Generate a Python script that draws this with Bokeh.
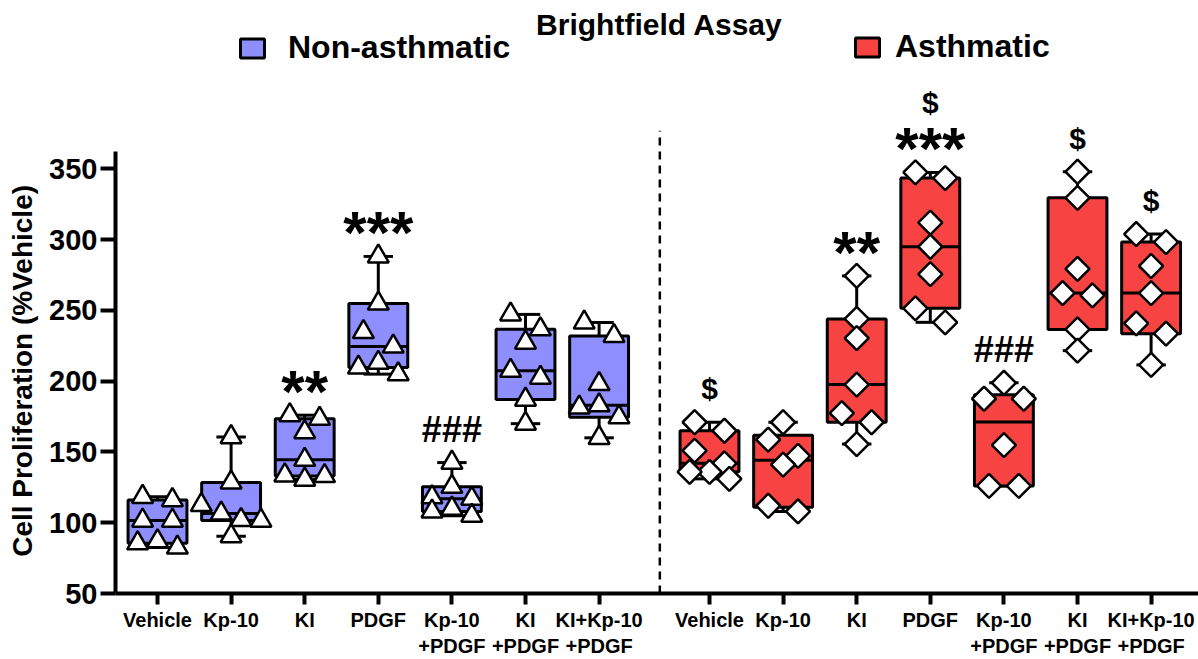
import numpy as np
from bokeh.plotting import figure
from bokeh.models import (Range1d, FixedTicker, ColumnDataSource, Legend, LegendItem,
                          Label, CustomJSTickFormatter)
from bokeh.core.properties import value
from bokeh.embed import file_html
from bokeh.resources import INLINE

FONT = "Liberation Sans"

# ---------------- data ----------------
categories = ["Vehicle", "Kp-10", "KI", "PDGF", "Kp-10\n+PDGF", "KI\n+PDGF", "KI+Kp-10\n+PDGF"]
group_names = ["Non-asthmatic", "Asthmatic"]

non_asthmatic_vehicle = [118.3, 116.0, 101.5, 101.5, 87.0, 85.5, 82.5]
non_asthmatic_kp10 = [160.5, 128.5, 112.5, 106.5, 102.0, 101.5, 90.5]
non_asthmatic_ki = [176.0, 173.5, 164.0, 144.5, 133.5, 133.0, 130.5]
non_asthmatic_pdgf = [288.2, 254.9, 234.8, 224.5, 213.0, 209.7, 205.0]
non_asthmatic_kp10_pdgf = [142.5, 125.4, 118.0, 117.0, 110.0, 108.0, 105.0]
non_asthmatic_ki_pdgf = [247.2, 236.7, 227.3, 207.4, 202.5, 187.0, 170.0]
non_asthmatic_ki_kp10_pdgf = [241.5, 232.0, 198.0, 183.0, 181.5, 174.5, 160.0]

asthmatic_vehicle = [171.0, 165.0, 151.0, 142.0, 136.0, 136.0, 131.0]
asthmatic_kp10 = [171.0, 158.7, 147.3, 141.0, 112.0, 108.0]
asthmatic_ki = [274.4, 244.0, 230.4, 197.6, 177.5, 171.0, 155.6]
asthmatic_pdgf = [347.5, 343.5, 312.0, 295.0, 275.6, 251.5, 241.6]
asthmatic_kp10_pdgf = [198.9, 187.6, 187.6, 154.9, 126.0, 126.0]
asthmatic_ki_pdgf = [348.0, 329.6, 279.4, 262.3, 260.6, 236.6, 221.6]
asthmatic_ki_kp10_pdgf = [304.0, 298.3, 281.4, 262.3, 240.9, 233.6, 211.5]

non_asthmatic = [non_asthmatic_vehicle, non_asthmatic_kp10, non_asthmatic_ki, non_asthmatic_pdgf,
                 non_asthmatic_kp10_pdgf, non_asthmatic_ki_pdgf, non_asthmatic_ki_kp10_pdgf]
asthmatic = [asthmatic_vehicle, asthmatic_kp10, asthmatic_ki, asthmatic_pdgf,
             asthmatic_kp10_pdgf, asthmatic_ki_pdgf, asthmatic_ki_kp10_pdgf]

# significance marks, bottom to top
non_asthmatic_marks = [[], [], ["**"], ["***"], ["###"], [], []]
asthmatic_marks = [["$"], [], ["**"], ["***", "$"], ["###"], ["$"], ["$"]]

y_ticks = [50, 100, 150, 200, 250, 300, 350]
y_label = "Cell Proliferation (%Vehicle)"
title_text = "Brightfield Assay"

# ---------------- styling ----------------
COLORS = {"Non-asthmatic": "#8E8EFF", "Asthmatic": "#F84343"}
GROUP_GAP = 1.5
BOX_W = 0.8
CAP_W = 0.4
Y_AXIS_TOP = 362
LABEL_PAD = "\u00a0" * 19   # shifts the rotated axis title down to centre it on the drawn axis

positions_na = [1 + i for i in range(len(categories))]
positions_as = [positions_na[-1] + GROUP_GAP + i for i in range(len(categories))]
all_pos = positions_na + positions_as
all_labels = categories + categories


def quartile(vals, q):
    s = sorted(vals)
    n = len(s)
    h = (n + 1) * q
    lo = int(np.floor(h))
    frac = h - lo
    if lo < 1:
        return s[0]
    if lo >= n:
        return s[-1]
    return s[lo - 1] + frac * (s[lo] - s[lo - 1])


def swarm(vals, row_gap=12.0, step=0.27):
    order = sorted(range(len(vals)), key=lambda i: -vals[i])
    rows = []
    for i in order:
        if rows and vals[rows[-1][0]] - vals[i] < row_gap:
            rows[-1].append(i)
        else:
            rows.append([i])
    offs = [0.0] * len(vals)
    for r in rows:
        n = len(r)
        if n == 1:
            pat = [0.0]
        elif n == 2:
            pat = [-0.75 * step, 0.75 * step]
        elif n == 3:
            pat = [0.0, -step, step]
        else:
            pat = [(k - (n - 1) / 2) * step for k in range(n)]
        for k, i in enumerate(r):
            offs[i] = pat[k]
    return offs


p = figure(width=1198, height=659,
           x_range=Range1d(0.4293, 15.144), y_range=Range1d(50, 469.0),
           output_backend="svg", toolbar_location=None,
           min_border_left=115, min_border_right=0, min_border_top=0, min_border_bottom=63)
p.xgrid.visible = False
p.ygrid.visible = False
p.outline_line_color = None


def draw_group(data, xs, color, marker, size, angle):
    q1 = [quartile(v, 0.25) for v in data]
    q2 = [quartile(v, 0.5) for v in data]
    q3 = [quartile(v, 0.75) for v in data]
    lo = [min(v) for v in data]
    hi = [max(v) for v in data]
    src = ColumnDataSource(dict(
        x=xs, q1=q1, q2=q2, q3=q3, lo=lo, hi=hi,
        left=[x - BOX_W / 2 for x in xs], right=[x + BOX_W / 2 for x in xs],
        capl=[x - CAP_W / 2 for x in xs], capr=[x + CAP_W / 2 for x in xs]))
    kw = dict(source=src, line_color="black", line_width=3)
    p.segment(x0="x", y0="q3", x1="x", y1="hi", **kw)
    p.segment(x0="x", y0="q1", x1="x", y1="lo", **kw)
    p.segment(x0="capl", y0="hi", x1="capr", y1="hi", **kw)
    p.segment(x0="capl", y0="lo", x1="capr", y1="lo", **kw)
    box = p.vbar(x="x", width=BOX_W, top="q3", bottom="q1", source=src,
                 fill_color=color, line_color="black", line_width=3)
    p.segment(x0="left", y0="q2", x1="right", y1="q2", **kw)
    px, py = [], []
    for x, vals in zip(xs, data):
        for off, v in zip(swarm(vals), vals):
            px.append(x + off)
            py.append(v)
    p.scatter(x=px, y=py, marker=marker, size=size, angle=angle,
              fill_color="white", line_color="black", line_width=2.5)
    return box


box_na = draw_group(non_asthmatic, positions_na, COLORS["Non-asthmatic"], "triangle", 21, 0.0)
box_as = draw_group(asthmatic, positions_as, COLORS["Asthmatic"], "square", 17, np.pi / 4)

# divider between the two groups
div_x = positions_na[-1] + 0.55 * GROUP_GAP
p.segment(x0=[div_x], y0=[y_ticks[0]], x1=[div_x], y1=[377], line_color="black",
          line_width=2.5, line_dash="8 6")

# significance marks
mark_style = {"*": ("60px", 9), "$": ("30px", -1), "#": ("36px", -1)}
groups_marks = {k: dict(x=[], y=[], text=[]) for k in mark_style}
for marks, data, xs in ((non_asthmatic_marks, non_asthmatic, positions_na),
                        (asthmatic_marks, asthmatic, positions_as)):
    for lst, vals, x in zip(marks, data, xs):
        top = max(vals)
        for level, s in enumerate(lst):
            d = groups_marks[s[0]]
            d["x"].append(x)
            d["y"].append(top + 23 + 26 * level)
            d["text"].append(s)
for k, (fs, yoff) in mark_style.items():
    d = groups_marks[k]
    p.text(x=d["x"], y=d["y"], text=d["text"], text_font=value(FONT), text_font_style="bold",
           text_font_size=fs, text_align="center", text_baseline="alphabetic",
           y_offset=yoff, text_color="black")

# title
p.add_layout(Label(x=(positions_na[0] + positions_as[-1]) / 2 + 0.07, y=451.8, text=title_text,
                   text_font=FONT, text_font_style="bold", text_font_size="30px",
                   text_color="black", text_align="center", text_baseline="alphabetic"))

# legends
for name, rend, loc, standoff in (("Non-asthmatic", box_na, (122, 527), 21),
                                  ("Asthmatic", box_as, (737, 528), 13)):
    leg = Legend(items=[LegendItem(label=name, renderers=[rend])], location=loc,
                 border_line_color=None, background_fill_alpha=0, padding=0, margin=0,
                 glyph_width=30, glyph_height=24, label_standoff=standoff,
                 label_text_font=FONT, label_text_font_style="bold", label_text_font_size="32px",
                 label_text_color="black")
    p.add_layout(leg)

# axes
p.yaxis.ticker = FixedTicker(ticks=y_ticks)
p.yaxis.bounds = (y_ticks[0], Y_AXIS_TOP)
p.yaxis.axis_label = y_label + LABEL_PAD
p.yaxis.axis_label_text_font = FONT
p.yaxis.axis_label_text_font_style = "bold"
p.yaxis.axis_label_text_font_size = "28px"
p.yaxis.axis_label_text_color = "black"
p.yaxis.axis_label_standoff = 8
p.yaxis.major_label_text_font = FONT
p.yaxis.major_label_text_font_style = "bold"
p.yaxis.major_label_text_font_size = "29px"
p.yaxis.major_label_text_color = "black"
p.yaxis.major_label_standoff = 3
p.yaxis.major_tick_out = 15
p.yaxis.major_tick_in = 0
p.yaxis.minor_tick_line_color = None
p.yaxis.axis_line_width = 4
p.yaxis.major_tick_line_width = 4

p.xaxis.ticker = FixedTicker(ticks=all_pos)
p.xaxis.formatter = CustomJSTickFormatter(args=dict(pos=all_pos, labs=all_labels), code="""
    let best = 0, bd = 1e9;
    for (let i = 0; i < pos.length; i++) {
        const d = Math.abs(pos[i] - tick);
        if (d < bd) { bd = d; best = i; }
    }
    return labs[best];
""")
p.xaxis.major_label_text_font = FONT
p.xaxis.major_label_text_font_style = "bold"
p.xaxis.major_label_text_font_size = "20px"
p.xaxis.major_label_text_color = "black"
p.xaxis.major_label_text_line_height = 1.2
p.xaxis.major_label_standoff = 4
p.xaxis.major_tick_out = 11
p.xaxis.major_tick_in = 0
p.xaxis.minor_tick_line_color = None
p.xaxis.axis_line_width = 4
p.xaxis.major_tick_line_width = 4

open("out.html", "w").write(file_html(p, INLINE))
